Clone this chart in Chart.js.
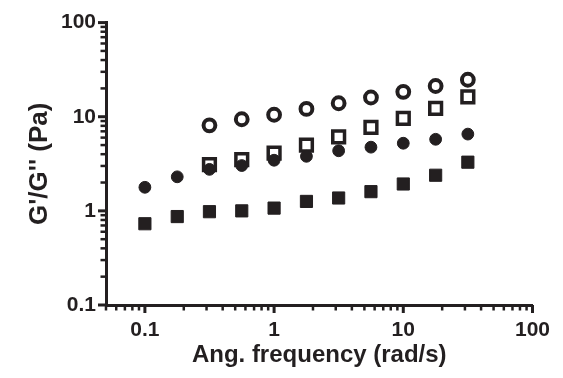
<!DOCTYPE html>
<html>
<head>
<meta charset="utf-8">
<script src="https://cdn.jsdelivr.net/npm/chart.js@4/dist/chart.umd.min.js"></script>
<style>
  html, body { margin: 0; padding: 0; background: #fff; }
  #wrap { width: 563px; height: 378px; }
</style>
</head>
<body>
<div id="wrap"><canvas id="chart" width="563" height="378"></canvas></div>
<script>
// angular frequency (rad/s)
const freq = [0.1, 0.178, 0.316, 0.562, 1, 1.78, 3.16, 5.62, 10, 17.8, 31.6];
const openCircles   = [null, null, 8.1, 9.4, 10.5, 12.1, 13.9, 16.0, 18.4, 21.2, 24.7];
const openSquares   = [null, null, 3.1, 3.5, 4.1, 5.0, 6.1, 7.7, 9.6, 12.3, 16.3];
const filledCircles = [1.78, 2.3, 2.76, 3.03, 3.45, 3.8, 4.35, 4.75, 5.23, 5.76, 6.54];
const filledSquares = [0.73, 0.87, 0.98, 1.0, 1.07, 1.26, 1.37, 1.6, 1.93, 2.39, 3.29];

const xTickLabels = ['0.1', '1', '10', '100'];
const yTickLabels = ['0.1', '1', '10', '100'];

const ink = '#231f20';

// 1..9 x 10^n tick marks, labels only on the decades
function logTicks(min, max) {
  const out = [];
  for (let e = -2; e <= 2; e++) {
    for (let m = 1; m <= 9; m++) {
      const v = m * Math.pow(10, e);
      if (v >= min * 0.999 && v <= max * 1.001) out.push(v);
    }
  }
  return out;
}
const xMin = 0.05, xMax = 100, yMin = 0.1, yMax = 100;
const xTickValues = logTicks(xMin, xMax);
const yTickValues = logTicks(yMin, yMax);

function labelFor(list, value) {
  const hit = list.find(l => Math.abs(Number(l) - value) < 1e-6 * value);
  return hit === undefined ? '' : hit;
}
const isDecade = v => Math.abs(Math.log10(v) - Math.round(Math.log10(v))) < 1e-6;

function points(ys) {
  return freq.map((x, i) => ({ x: x, y: ys[i] })).filter(p => p.y !== null);
}

// short minor / longer major tick marks outside the axes
const tickMarks = {
  id: 'tickMarks',
  afterDraw(chart) {
    const { ctx, scales: { x, y } } = chart;
    ctx.save();
    ctx.strokeStyle = ink;
    xTickValues.forEach(v => {
      const px = x.getPixelForValue(v);
      const major = isDecade(v);
      ctx.lineWidth = major ? 3 : 2.5;
      ctx.beginPath();
      ctx.moveTo(px, x.top);
      ctx.lineTo(px, x.top + (major ? 8 : 5.5));
      ctx.stroke();
    });
    yTickValues.forEach(v => {
      const py = y.getPixelForValue(v);
      const major = isDecade(v);
      ctx.lineWidth = major ? 3 : 2.5;
      ctx.beginPath();
      ctx.moveTo(y.right, py);
      ctx.lineTo(y.right - (major ? 8 : 5.5), py);
      ctx.stroke();
    });
    ctx.restore();
  }
};

Chart.defaults.font.family = '"Liberation Sans", Arial, sans-serif';
Chart.defaults.font.weight = 'bold';
Chart.defaults.color = ink;

const ctx = document.getElementById('chart').getContext('2d');
new Chart(ctx, {
  type: 'scatter',
  data: {
    datasets: [
      {
        label: 'filled circles',
        data: points(filledCircles),
        pointStyle: 'circle',
        pointRadius: 5.9,
        pointBorderWidth: 1,
        pointBackgroundColor: ink,
        pointBorderColor: ink,
        order: 0
      },
      {
        label: 'filled squares',
        data: points(filledSquares),
        pointStyle: 'rect',
        pointRadius: 8.6,
        pointBorderWidth: 1,
        pointBackgroundColor: ink,
        pointBorderColor: ink,
        order: 1
      },
      {
        label: 'open squares',
        data: points(openSquares),
        pointStyle: 'rect',
        pointRadius: 8.3,
        pointBorderWidth: 3.5,
        pointBackgroundColor: '#ffffff',
        pointBorderColor: ink,
        order: 2
      },
      {
        label: 'open circles',
        data: points(openCircles),
        pointStyle: 'circle',
        pointRadius: 5.9,
        pointBorderWidth: 4,
        pointBackgroundColor: '#ffffff',
        pointBorderColor: ink,
        order: 3
      }
    ]
  },
  options: {
    responsive: false,
    animation: false,
    events: [],
    layout: { padding: { top: 17, right: 26, bottom: 0, left: 0 } },
    plugins: {
      legend: { display: false },
      tooltip: { enabled: false }
    },
    scales: {
      x: {
        type: 'logarithmic',
        position: 'bottom',
        min: xMin,
        max: xMax,
        afterFit: s => { s.height = 73; },
        afterBuildTicks: s => { s.ticks = xTickValues.map(v => ({ value: v })); },
        grid: { display: false, drawTicks: false },
        border: { display: true, color: ink, width: 3 },
        ticks: {
          autoSkip: false,
          maxRotation: 0,
          minRotation: 0,
          padding: 13,
          color: ink,
          font: { size: 21, weight: 'bold' },
          callback: v => labelFor(xTickLabels, v)
        },
        title: {
          display: true,
          text: 'Ang. frequency (rad/s)',
          color: ink,
          font: { size: 24, weight: 'bold' },
          padding: { top: 0, bottom: 8 }
        }
      },
      y: {
        type: 'logarithmic',
        position: 'left',
        min: yMin,
        max: yMax,
        afterFit: s => { s.width = 106; },
        afterBuildTicks: s => { s.ticks = yTickValues.map(v => ({ value: v })); },
        grid: { display: false, drawTicks: false },
        border: { display: true, color: ink, width: 3 },
        ticks: {
          autoSkip: false,
          padding: 10,
          color: ink,
          font: { size: 21, weight: 'bold' },
          callback: v => labelFor(yTickLabels, v)
        },
        title: {
          display: true,
          text: "G'/G'' (Pa)",
          color: ink,
          font: { size: 26, weight: 'bold' },
          padding: { top: 24, bottom: 0 }
        }
      }
    }
  },
  plugins: [tickMarks]
});
</script>
</body>
</html>
